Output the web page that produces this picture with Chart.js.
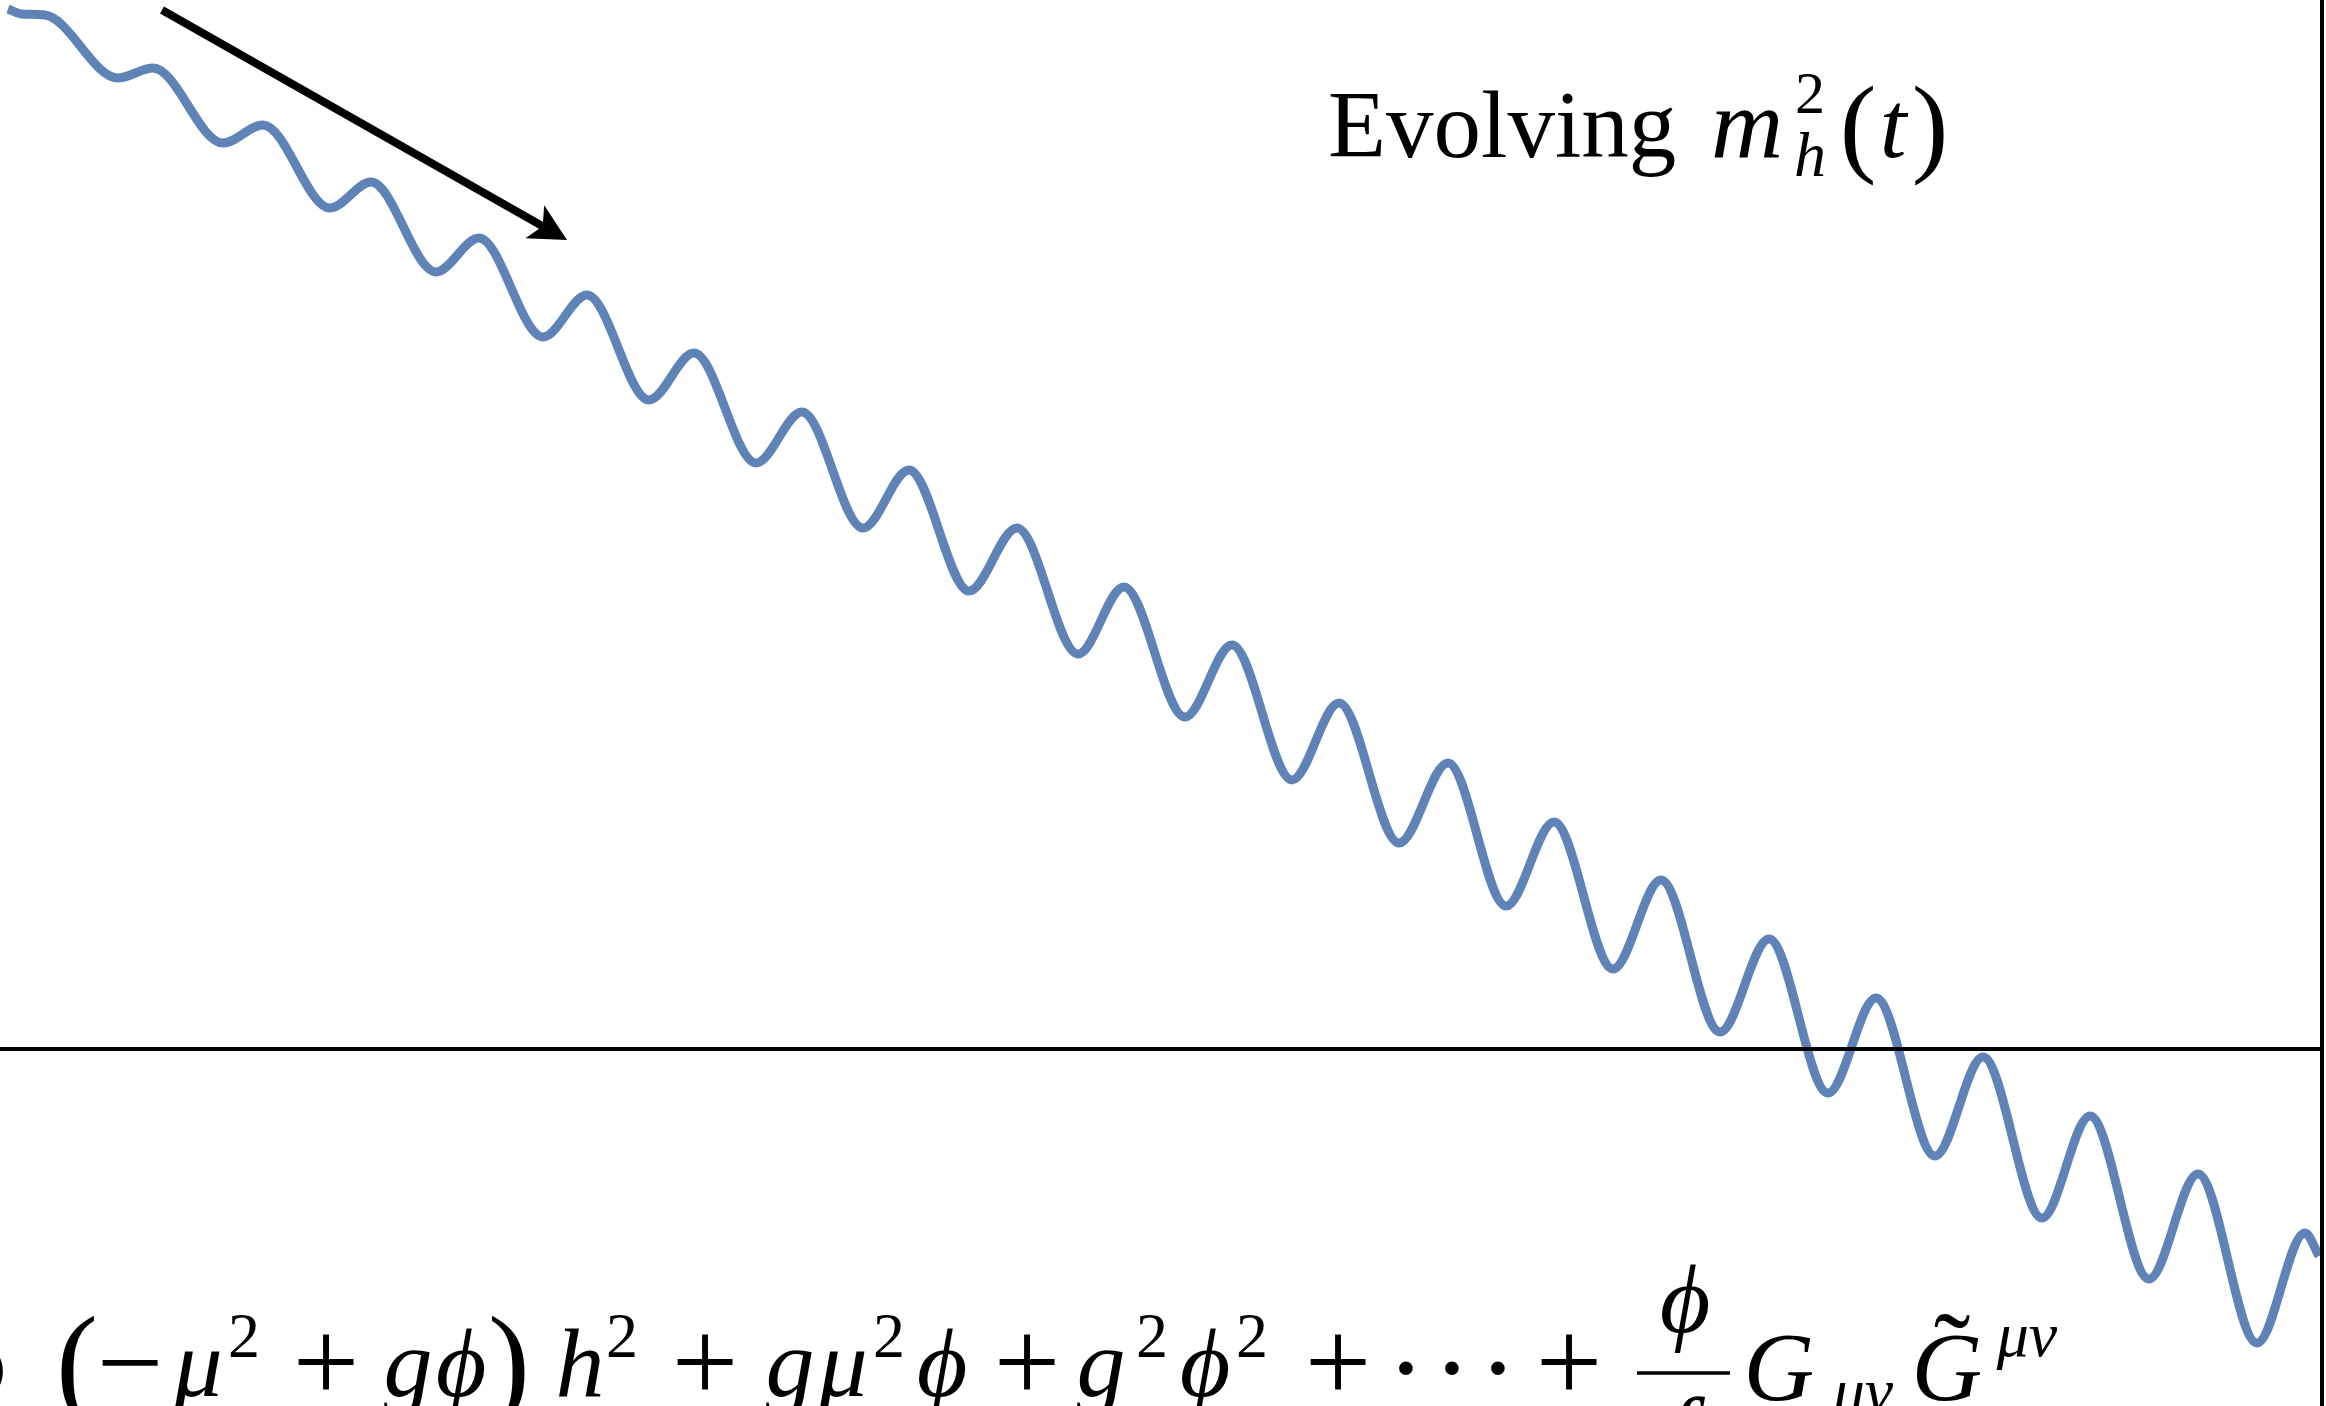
<!doctype html>
<html lang="en">
  <head>
    <meta charset="utf-8">
    <title>Evolving Higgs mass</title>
    <style>
      * {
        margin: 0;
        padding: 0;
      }
      body {
        background: white;
      }
      .chartBox {
        width: 2326px;
        height: 1406px;
        position: relative;
      }
    </style>
  </head>
  <body>
    <div class="chartBox">
      <canvas id="myChart"></canvas>
    </div>
    <script src="https://cdn.jsdelivr.net/npm/chart.js"></script>
    <script>
      // time axis and m_h^2 read at each turning point of the oscillation
      const tValues = [
        0.08, 0.22, 0.45, 1.18, 1.53, 2.23, 2.63, 3.30, 3.71, 4.36, 4.79,
        5.43, 5.87, 6.49, 6.94, 7.56, 8.02, 8.63, 9.09, 9.69, 10.17,
        10.78, 11.24, 11.85, 12.32, 12.92, 13.39, 13.99, 14.48, 15.06, 15.54,
        16.13, 16.61, 17.20, 17.69, 18.28, 18.76, 19.35, 19.83, 20.42, 20.90,
        21.49, 21.98, 22.57, 23.05, 23.19
      ];
      const m2Values = [
        10.40, 10.35, 10.34, 9.71, 9.81, 9.06, 9.24, 8.41, 8.67, 7.77, 8.11,
        7.12, 7.54, 6.49, 6.96, 5.86, 6.37, 5.21, 5.79, 4.58, 5.21,
        3.95, 4.62, 3.32, 4.04, 2.69, 3.46, 2.06, 2.86, 1.43, 2.27,
        0.80, 1.69, 0.17, 1.10, -0.44, 0.51, -1.07, -0.08, -1.69, -0.67,
        -2.30, -1.25, -2.94, -1.84, -2.07
      ];

      // axis ranges
      const tRange = [0, 23.26];
      const m2Range = [-3.57, 10.49];
      const edgeT = 23.22;

      // trend arrow, start and tip
      const arrowFrom = [1.62, 10.39];
      const arrowTo = [5.67, 8.09];

      const curve = tValues.map((t, i) => ({ x: t, y: m2Values[i] }));
      const zeroLine = [{ x: tRange[0], y: 0 }, { x: edgeT, y: 0 }];
      const edgeLine = [{ x: edgeT, y: m2Range[0] }, { x: edgeT, y: m2Range[1] }];

      const serif = '"Liberation Serif", "DejaVu Serif", serif';

      function put(ctx, text, cx, base, size, italic, align) {
        ctx.font = (italic ? 'italic ' : '') + size + 'px ' + serif;
        ctx.textAlign = align || 'center';
        ctx.textBaseline = 'alphabetic';
        ctx.fillText(text, cx, base);
      }

      // arrow, label and the Lagrangian along the bottom
      const overlay = {
        id: 'overlay',
        afterDatasetsDraw(chart) {
          const { ctx, scales: { x, y } } = chart;
          const x0 = x.getPixelForValue(arrowFrom[0]);
          const y0 = y.getPixelForValue(arrowFrom[1]);
          const x1 = x.getPixelForValue(arrowTo[0]);
          const y1 = y.getPixelForValue(arrowTo[1]);
          const ang = Math.atan2(y1 - y0, x1 - x0);
          const c = Math.cos(ang), s = Math.sin(ang);
          const pt = (a, p) => [x1 + c * a - s * p, y1 + s * a + c * p];

          ctx.save();
          ctx.fillStyle = '#000';
          ctx.strokeStyle = '#000';
          ctx.lineWidth = 8;
          ctx.beginPath();
          ctx.moveTo(x0, y0);
          ctx.lineTo(...pt(-28, 0));
          ctx.stroke();
          ctx.beginPath();
          ctx.moveTo(x1, y1);
          ctx.lineTo(...pt(-37, -19));
          ctx.lineTo(...pt(-28, 0));
          ctx.lineTo(...pt(-37, 19));
          ctx.closePath();
          ctx.fill();

          // label
          put(ctx, 'Evolving', 1328, 157, 95, false, 'left');
          put(ctx, 'm', 1747, 157, 100, true);
          put(ctx, '2', 1810, 113, 60, false);
          put(ctx, 'h', 1810, 176, 64, true);
          put(ctx, '(', 1858, 162, 110, false);
          put(ctx, 't', 1893, 157, 96, true);
          put(ctx, ')', 1930, 162, 110, false);

          // L ⊃ (−μ² + gϕ) h² + gμ²ϕ + g²ϕ² + ⋯ + ϕ/f G_{μν} G̃^{μν}
          const B = 1396, S = 98, SS = 64, OP = 118;
          put(ctx, '\u2283', 14, 1404, 104, false, 'right');
          put(ctx, '(', 77, 1404, 126, false);
          put(ctx, '\u2212', 130, 1402, OP, false);
          put(ctx, '\u03bc', 198, B, S, true);
          put(ctx, '2', 244, 1357, SS, false);
          put(ctx, '+', 326, 1402, OP, false);
          put(ctx, 'g', 408, B, S, true);
          put(ctx, '\u03d5', 461, B, S, true);
          put(ctx, ')', 509, 1404, 126, false);
          put(ctx, 'h', 580, B, S, true);
          put(ctx, '2', 622, 1357, SS, false);
          put(ctx, '+', 705, 1402, OP, false);
          put(ctx, 'g', 790, B, S, true);
          put(ctx, '\u03bc', 843, B, S, true);
          put(ctx, '2', 889, 1357, SS, false);
          put(ctx, '\u03d5', 942, B, S, true);
          put(ctx, '+', 1027, 1402, OP, false);
          put(ctx, 'g', 1101, B, S, true);
          put(ctx, '2', 1152, 1357, SS, false);
          put(ctx, '\u03d5', 1205, B, S, true);
          put(ctx, '2', 1252, 1357, SS, false);
          put(ctx, '+', 1338, 1402, OP, false);
          put(ctx, '\u00b7', 1406, 1406, 115, false);
          put(ctx, '\u00b7', 1452, 1406, 115, false);
          put(ctx, '\u00b7', 1498, 1406, 115, false);
          put(ctx, '+', 1569, 1402, OP, false);
          put(ctx, '\u03d5', 1685, 1332, S, true);
          put(ctx, 'f', 1680, 1465, S, true);
          put(ctx, 'G', 1779, 1400, S, true);
          put(ctx, '\u03bc\u03bd', 1863, 1412, SS, true);
          put(ctx, 'G', 1947, 1400, S, true);
          put(ctx, '\u02dc', 1952, 1388, 110, false);
          put(ctx, '\u03bc\u03bd', 2027, 1356, SS, true);

          ctx.lineWidth = 3.5;
          ctx.beginPath();
          ctx.moveTo(1637, 1373);
          ctx.lineTo(1730, 1373);
          ctx.stroke();
          ctx.restore();
        }
      };

      const data = {
        datasets: [
          {
            data: zeroLine,
            borderColor: '#000',
            borderWidth: 4,
            order: 0
          },
          {
            data: edgeLine,
            borderColor: '#000',
            borderWidth: 4,
            order: 0
          },
          {
            data: curve,
            borderColor: '#5f83b7',
            borderWidth: 9,
            cubicInterpolationMode: 'monotone',
            order: 1
          }
        ]
      };

      const config = {
        type: 'line',
        data,
        options: {
          responsive: true,
          maintainAspectRatio: false,
          animation: false,
          layout: { padding: 0 },
          elements: { point: { radius: 0 } },
          datasets: { line: { clip: false } },
          plugins: {
            legend: { display: false },
            tooltip: { enabled: false }
          },
          scales: {
            x: { type: 'linear', min: tRange[0], max: tRange[1], display: false },
            y: { type: 'linear', min: m2Range[0], max: m2Range[1], display: false }
          }
        },
        plugins: [overlay]
      };

      const myChart = new Chart(
        document.getElementById('myChart'),
        config
      );
    </script>
  </body>
</html>
